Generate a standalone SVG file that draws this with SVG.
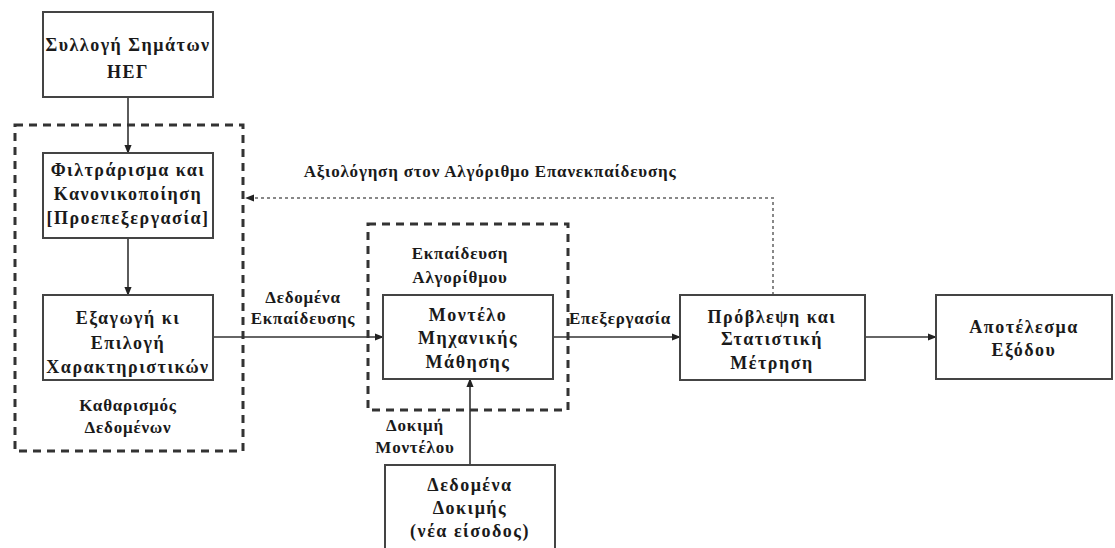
<svg xmlns="http://www.w3.org/2000/svg" width="1115" height="548" viewBox="0 0 1115 548">
  <defs>
    <marker id="arrow" viewBox="0 0 10 10" refX="9" refY="5" markerWidth="9" markerHeight="9" markerUnits="userSpaceOnUse" orient="auto">
      <path d="M0,1 L10,5 L0,9 Z" fill="#222"/>
    </marker>
  </defs>
  <style>
    .box { fill: #fff; stroke: #444; stroke-width: 2; }
    .group { fill: none; stroke: #333; stroke-width: 3; stroke-dasharray: 8 6; }
    .link { fill: none; stroke: #333; stroke-width: 1.6; marker-end: url(#arrow); }
    .feedback { fill: none; stroke: #888; stroke-width: 2; stroke-dasharray: 3 3; marker-end: url(#arrow); }
    text { font-family: "Liberation Serif", "DejaVu Serif", serif; font-weight: bold; fill: #1a1a1a; text-anchor: middle; dominant-baseline: central; }
    .node text { font-size: 18px; letter-spacing: 1.5px; }
    .label { font-size: 17px; letter-spacing: 0.8px; }
  </style>
  <rect width="1115" height="548" fill="#fff"/>

  <!-- dashed grouping frames -->
  <g id="group-cleaning">
    <rect class="group" x="15" y="125" width="228" height="326"/>
    <text class="label" x="128" y="405">Καθαρισμός</text>
    <text class="label" x="128" y="427">Δεδομένων</text>
  </g>
  <g id="group-training">
    <rect class="group" x="368" y="224" width="200" height="186"/>
    <text class="label" x="460" y="253">Εκπαίδευση</text>
    <text class="label" x="460" y="277">Αλγορίθμου</text>
  </g>

  <!-- connectors -->
  <g id="connectors">
    <line class="link" x1="128" y1="97" x2="128" y2="153"/>
    <line class="link" x1="128" y1="238" x2="128" y2="295"/>
    <line class="link" x1="213" y1="337" x2="383" y2="337"/>
    <line class="link" x1="553" y1="337" x2="680" y2="337"/>
    <line class="link" x1="865" y1="337" x2="936" y2="337"/>
    <line class="link" x1="470" y1="465" x2="470" y2="379"/>
    <polyline class="feedback" points="773,295 773,198 246,198"/>
    <text class="label" x="303" y="297">Δεδομένα</text>
    <text class="label" x="303" y="318">Εκπαίδευσης</text>
    <text class="label" x="620" y="318">Επεξεργασία</text>
    <text class="label" x="490" y="171">Αξιολόγηση στον Αλγόριθμο Επανεκπαίδευσης</text>
    <text class="label" x="415" y="425">Δοκιμή</text>
    <text class="label" x="415" y="447">Μοντέλου</text>
  </g>

  <g id="eeg-acquisition" class="node">
    <rect class="box" x="43" y="12" width="170" height="85"/>
    <text x="128" y="45">Συλλογή Σημάτων</text>
    <text x="128" y="72">ΗΕΓ</text>
  </g>

  <g id="preprocessing" class="node">
    <rect class="box" x="43" y="153" width="170" height="85"/>
    <text x="128" y="170">Φιλτράρισμα και</text>
    <text x="128" y="194">Κανονικοποίηση</text>
    <text x="128" y="218">[Προεπεξεργασία]</text>
  </g>

  <g id="feature-extraction" class="node">
    <rect class="box" x="43" y="295" width="170" height="85"/>
    <text x="128" y="318">Εξαγωγή κι</text>
    <text x="128" y="343">Επιλογή</text>
    <text x="128" y="367">Χαρακτηριστικών</text>
  </g>

  <g id="ml-model" class="node">
    <rect class="box" x="383" y="295" width="170" height="84"/>
    <text x="468" y="315">Μοντέλο</text>
    <text x="468" y="338">Μηχανικής</text>
    <text x="468" y="362">Μάθησης</text>
  </g>

  <g id="test-data" class="node">
    <rect class="box" x="385" y="465" width="170" height="100"/>
    <text x="470" y="485">Δεδομένα</text>
    <text x="470" y="508">Δοκιμής</text>
    <text x="470" y="531">(νέα είσοδος)</text>
  </g>

  <g id="prediction" class="node">
    <rect class="box" x="680" y="295" width="185" height="85"/>
    <text x="772" y="317">Πρόβλεψη και</text>
    <text x="772" y="339">Στατιστική</text>
    <text x="772" y="363">Μέτρηση</text>
  </g>

  <g id="output" class="node">
    <rect class="box" x="936" y="295" width="176" height="84"/>
    <text x="1024" y="327">Αποτέλεσμα</text>
    <text x="1024" y="350">Εξόδου</text>
  </g>
</svg>
